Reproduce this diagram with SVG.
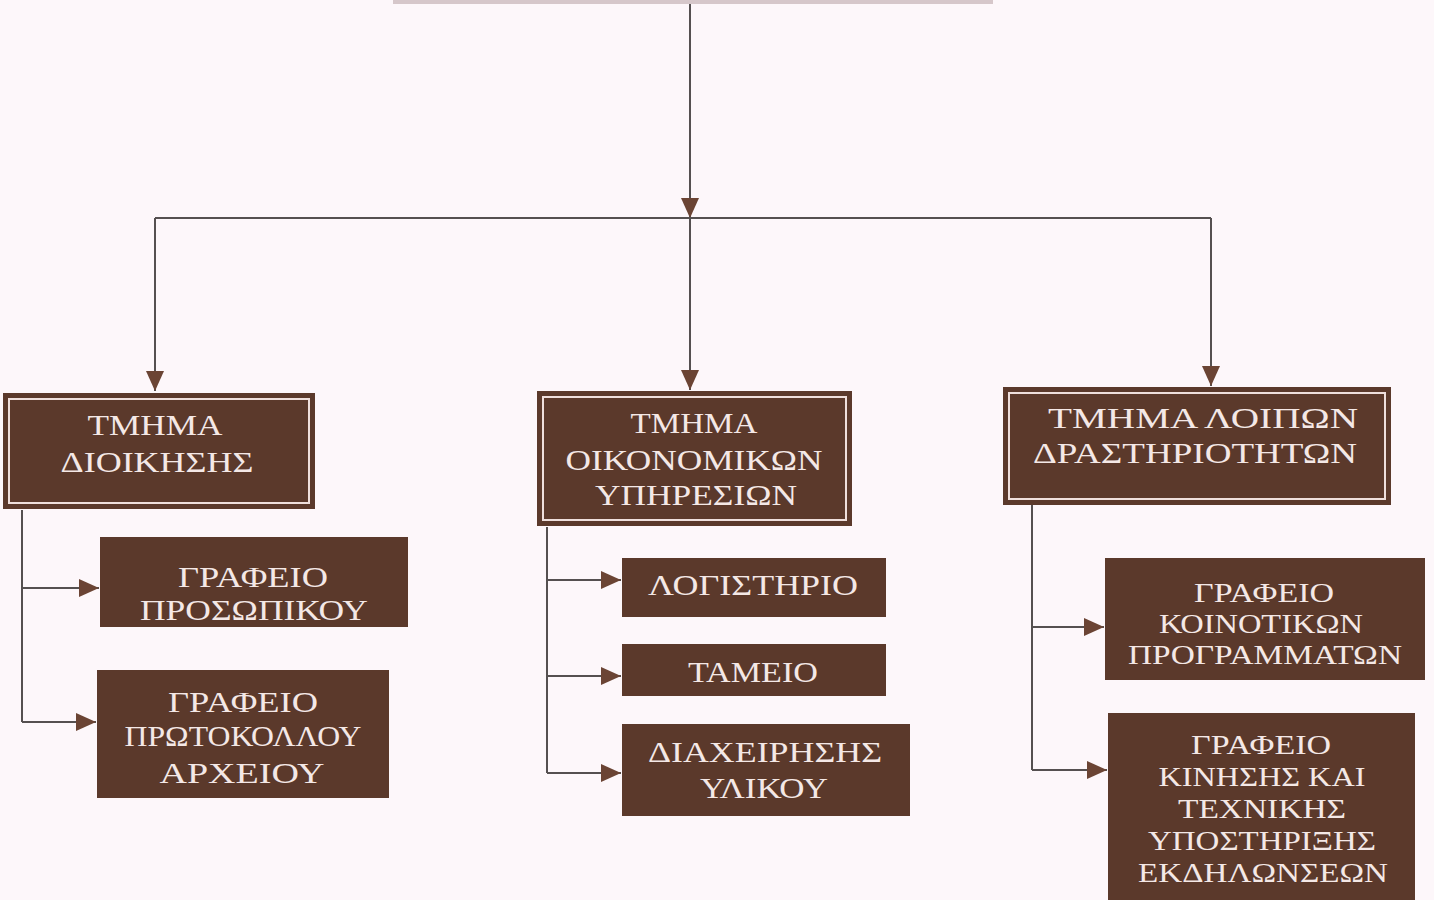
<svg xmlns="http://www.w3.org/2000/svg" width="1434" height="900" viewBox="0 0 1434 900">
  <style>
    .bg { fill: #fdf7fa; }
    .box { fill: #5b392b; }
    .inner { fill: none; stroke: #efdfdc; stroke-width: 2; }
    .lbl { font-family: "Liberation Serif", "Times New Roman", serif; font-size: 30px; fill: #f4e8e6; text-anchor: middle; }
    .sm { font-size: 28px; }
    .conn { fill: none; stroke: #555050; stroke-width: 2; }
  </style>
  <defs>
    <marker id="arr" markerUnits="userSpaceOnUse" markerWidth="22" markerHeight="18" refX="20" refY="9" orient="auto">
      <path d="M0,0 L20,9 L0,18 Z" fill="#6b4434"/>
    </marker>
  </defs>
  <rect class="bg" x="0" y="0" width="1434" height="900"/>
  <rect x="393" y="0" width="600" height="4" fill="#d6c7ca"/>

  <g id="connectors">
    <path class="conn" d="M690,4 V218" marker-end="url(#arr)"/>
    <path class="conn" d="M155,218 H1211"/>
    <path class="conn" d="M155,218 V391" marker-end="url(#arr)"/>
    <path class="conn" d="M690,218 V390" marker-end="url(#arr)"/>
    <path class="conn" d="M1211,218 V386" marker-end="url(#arr)"/>
    <path class="conn" d="M22,510 V722"/>
    <path class="conn" d="M22,588 H99" marker-end="url(#arr)"/>
    <path class="conn" d="M22,722 H96" marker-end="url(#arr)"/>
    <path class="conn" d="M547,527 V773"/>
    <path class="conn" d="M547,580 H621" marker-end="url(#arr)"/>
    <path class="conn" d="M547,676 H621" marker-end="url(#arr)"/>
    <path class="conn" d="M547,773 H621" marker-end="url(#arr)"/>
    <path class="conn" d="M1032,505 V770"/>
    <path class="conn" d="M1032,627 H1104" marker-end="url(#arr)"/>
    <path class="conn" d="M1032,770 H1107" marker-end="url(#arr)"/>
  </g>

  <g id="dept-admin">
    <rect class="box" x="3" y="393" width="312" height="116"/>
    <rect class="inner" x="9" y="399" width="300" height="104"/>
    <text class="lbl" x="155" y="435" textLength="135" lengthAdjust="spacingAndGlyphs">ΤΜΗΜΑ</text>
    <text class="lbl" x="157" y="472" textLength="193" lengthAdjust="spacingAndGlyphs">ΔΙΟΙΚΗΣΗΣ</text>
  </g>
  <g id="dept-finance">
    <rect class="box" x="537" y="391" width="315" height="135"/>
    <rect class="inner" x="543" y="397" width="303" height="123"/>
    <text class="lbl" x="694" y="433" textLength="127" lengthAdjust="spacingAndGlyphs">ΤΜΗΜΑ</text>
    <text class="lbl" x="694" y="470" textLength="257" lengthAdjust="spacingAndGlyphs">ΟΙΚΟΝΟΜΙΚΩΝ</text>
    <text class="lbl" x="696" y="505" textLength="202" lengthAdjust="spacingAndGlyphs">ΥΠΗΡΕΣΙΩΝ</text>
  </g>
  <g id="dept-other">
    <rect class="box" x="1003" y="387" width="388" height="118"/>
    <rect class="inner" x="1009" y="393" width="376" height="106"/>
    <text class="lbl" x="1203" y="428" textLength="310" lengthAdjust="spacingAndGlyphs">ΤΜΗΜΑ ΛΟΙΠΩΝ</text>
    <text class="lbl" x="1195" y="463" textLength="324" lengthAdjust="spacingAndGlyphs">ΔΡΑΣΤΗΡΙΟΤΗΤΩΝ</text>
  </g>

  <g id="office-personnel">
    <rect class="box" x="100" y="537" width="308" height="90"/>
    <text class="lbl" x="253" y="587" textLength="150" lengthAdjust="spacingAndGlyphs">ΓΡΑΦΕΙΟ</text>
    <text class="lbl" x="254" y="620" textLength="228" lengthAdjust="spacingAndGlyphs">ΠΡΟΣΩΠΙΚΟΥ</text>
  </g>
  <g id="office-protocol">
    <rect class="box" x="97" y="670" width="292" height="128"/>
    <text class="lbl" x="243" y="712" textLength="150" lengthAdjust="spacingAndGlyphs">ΓΡΑΦΕΙΟ</text>
    <text class="lbl" x="243" y="746" textLength="237" lengthAdjust="spacingAndGlyphs">ΠΡΩΤΟΚΟΛΛΟΥ</text>
    <text class="lbl" x="242" y="783" textLength="165" lengthAdjust="spacingAndGlyphs">ΑΡΧΕΙΟΥ</text>
  </g>

  <g id="accounting">
    <rect class="box" x="622" y="558" width="264" height="59"/>
    <text class="lbl" x="753" y="595" textLength="210" lengthAdjust="spacingAndGlyphs">ΛΟΓΙΣΤΗΡΙΟ</text>
  </g>
  <g id="cashier">
    <rect class="box" x="622" y="644" width="264" height="52"/>
    <text class="lbl" x="753" y="682" textLength="130" lengthAdjust="spacingAndGlyphs">ΤΑΜΕΙΟ</text>
  </g>
  <g id="materials">
    <rect class="box" x="622" y="724" width="288" height="92"/>
    <text class="lbl" x="765" y="762" textLength="234" lengthAdjust="spacingAndGlyphs">ΔΙΑΧΕΙΡΗΣΗΣ</text>
    <text class="lbl" x="764" y="798" textLength="128" lengthAdjust="spacingAndGlyphs">ΥΛΙΚΟΥ</text>
  </g>

  <g id="office-eu">
    <rect class="box" x="1105" y="558" width="320" height="122"/>
    <text class="lbl sm" x="1264" y="602" textLength="140" lengthAdjust="spacingAndGlyphs">ΓΡΑΦΕΙΟ</text>
    <text class="lbl sm" x="1261" y="633" textLength="204" lengthAdjust="spacingAndGlyphs">ΚΟΙΝΟΤΙΚΩΝ</text>
    <text class="lbl sm" x="1265" y="664" textLength="274" lengthAdjust="spacingAndGlyphs">ΠΡΟΓΡΑΜΜΑΤΩΝ</text>
  </g>
  <g id="office-events">
    <rect class="box" x="1108" y="713" width="307" height="187"/>
    <text class="lbl sm" x="1261" y="754" textLength="140" lengthAdjust="spacingAndGlyphs">ΓΡΑΦΕΙΟ</text>
    <text class="lbl sm" x="1262" y="786" textLength="207" lengthAdjust="spacingAndGlyphs">ΚΙΝΗΣΗΣ ΚΑΙ</text>
    <text class="lbl sm" x="1262" y="818" textLength="168" lengthAdjust="spacingAndGlyphs">ΤΕΧΝΙΚΗΣ</text>
    <text class="lbl sm" x="1262" y="850" textLength="228" lengthAdjust="spacingAndGlyphs">ΥΠΟΣΤΗΡΙΞΗΣ</text>
    <text class="lbl sm" x="1263" y="882" textLength="250" lengthAdjust="spacingAndGlyphs">ΕΚΔΗΛΩΝΣΕΩΝ</text>
  </g>
</svg>
